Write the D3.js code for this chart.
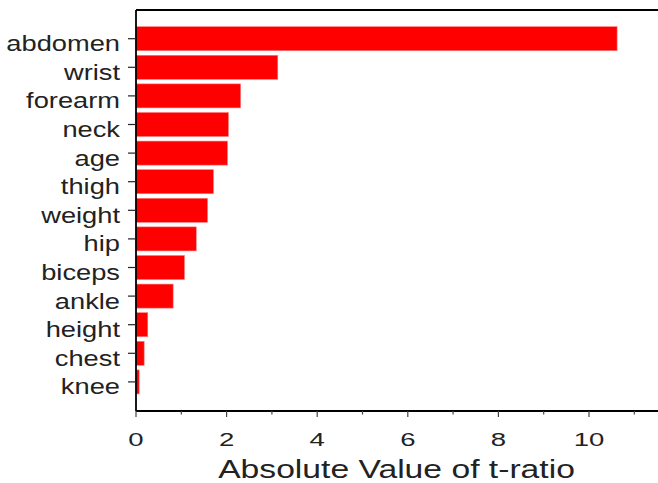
<!DOCTYPE html>
<html>
<head>
<meta charset="utf-8">
<script src="https://cdn.jsdelivr.net/npm/d3@7"></script>
<style>
  html, body { margin: 0; padding: 0; background: #fff; }
  svg { display: block; }
  text { font-family: "Liberation Sans", Arial, Helvetica, sans-serif; fill: #222; }
</style>
</head>
<body>
<svg id="chart" width="658" height="483"></svg>
<script>
const categories = ["abdomen", "wrist", "forearm", "neck", "age", "thigh", "weight", "hip", "biceps", "ankle", "height", "chest", "knee"];
const values = [10.62, 3.13, 2.31, 2.04, 2.02, 1.71, 1.58, 1.33, 1.07, 0.82, 0.26, 0.18, 0.07];
const majorTicks = [0, 2, 4, 6, 8, 10];
const minorTicks = [1, 3, 5, 7, 9, 11];
const xTitle = "Absolute Value of t-ratio";

(function () {
const svg = d3.select("#chart");
const W = 658, H = 483;
const mLeft = 136, mTop = 10, mBottom = 411;

const x = d3.scaleLinear().domain([0, (W - mLeft) / 45.3]).range([mLeft, W]);
const y = d3.scaleBand().domain(categories).range([24.4, 396.2]).paddingInner(0.16).paddingOuter(0.08);

// bars
svg.append("g").selectAll("rect").data(values).join("rect")
  .attr("x", x(0))
  .attr("y", (d, i) => y(categories[i]))
  .attr("width", d => x(d) - x(0))
  .attr("height", y.bandwidth())
  .attr("fill", "#ff0000")
  .attr("stroke", "#ff7a7a")
  .attr("stroke-width", 0.6);

// frame lines
svg.append("line").attr("x1", mLeft).attr("x2", W).attr("y1", mTop).attr("y2", mTop).attr("stroke", "#000").attr("stroke-width", 1.8);
svg.append("line").attr("x1", mLeft).attr("x2", mLeft).attr("y1", mTop).attr("y2", mBottom).attr("stroke", "#000").attr("stroke-width", 1.8);
svg.append("line").attr("x1", mLeft).attr("x2", W).attr("y1", mBottom).attr("y2", mBottom).attr("stroke", "#000").attr("stroke-width", 1.8);

// y ticks & labels
const yg = svg.append("g");
categories.forEach(c => {
  const cy = y(c) + y.bandwidth() / 2;
  yg.append("line").attr("x1", mLeft - 8).attr("x2", mLeft).attr("y1", cy).attr("y2", cy).attr("stroke", "#222").attr("stroke-width", 1.2);
  yg.append("text")
    .attr("transform", `translate(120,${cy + 12.5}) scale(1.24,1)`)
    .attr("text-anchor", "end")
    .attr("font-size", 22)
    .text(c);
});

// x ticks
const xg = svg.append("g");
majorTicks.forEach(t => {
  xg.append("line").attr("x1", x(t)).attr("x2", x(t)).attr("y1", mBottom).attr("y2", mBottom + 6).attr("stroke", "#444").attr("stroke-width", 1.2);
  xg.append("text")
    .attr("transform", `translate(${x(t)},446) scale(1.45,1)`)
    .attr("text-anchor", "middle")
    .attr("font-size", 19)
    .text(t);
});
minorTicks.forEach(t => {
  xg.append("line").attr("x1", x(t)).attr("x2", x(t)).attr("y1", mBottom).attr("y2", mBottom + 3.5).attr("stroke", "#444").attr("stroke-width", 1.2);
});

svg.append("text")
  .attr("transform", `translate(396.5,478) scale(1.32,1)`)
  .attr("text-anchor", "middle")
  .attr("font-size", 25.5)
  .text(xTitle);
})();
</script>
</body>
</html>
